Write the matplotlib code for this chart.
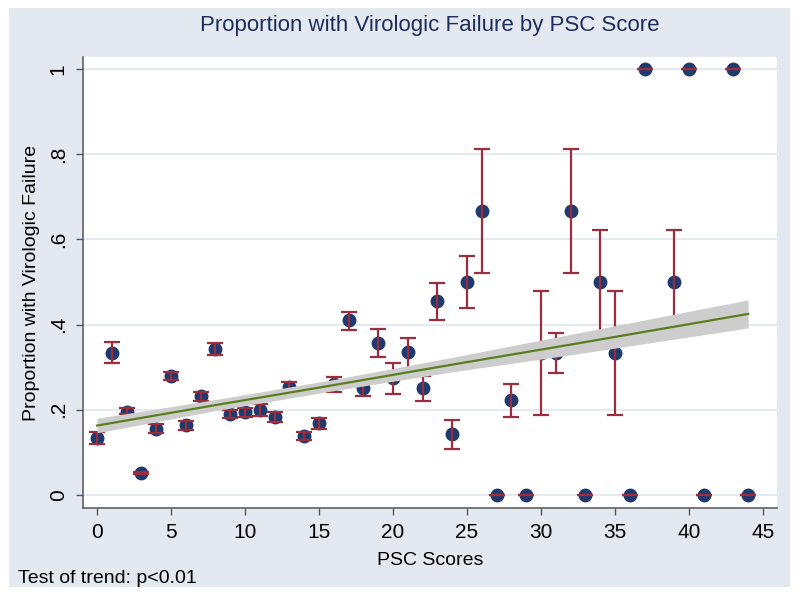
import numpy as np
import matplotlib
matplotlib.use("Agg")
import matplotlib.pyplot as plt
from matplotlib.patches import Rectangle
from matplotlib import font_manager

# PSC score vs proportion with virologic failure (means with error bars)
psc = list(range(0, 38)) + [39, 40, 41, 43, 44]
prop = [0.134, 0.333, 0.195, 0.052, 0.155, 0.280, 0.164, 0.232, 0.343, 0.190,
        0.194, 0.200, 0.183, 0.254, 0.138, 0.168, 0.260, 0.410, 0.250, 0.357,
        0.275, 0.336, 0.250, 0.455, 0.143, 0.500, 0.667, 0.000, 0.222, 0.000,
        0.333, 0.333, 0.667, 0.000, 0.500, 0.333, 0.000, 1.000,
        0.500, 1.000, 0.000, 1.000, 0.000]
lo = [0.120, 0.310, 0.190, 0.050, 0.146, 0.270, 0.153, 0.221, 0.329, 0.181,
      0.183, 0.185, 0.171, 0.243, 0.129, 0.155, 0.242, 0.387, 0.232, 0.324,
      0.237, 0.293, 0.220, 0.410, 0.108, 0.440, 0.520, 0.000, 0.183, 0.000,
      0.188, 0.286, 0.520, 0.000, 0.378, 0.188, 0.000, 1.000,
      0.378, 1.000, 0.000, 1.000, 0.000]
hi = [0.148, 0.359, 0.204, 0.054, 0.167, 0.289, 0.174, 0.242, 0.357, 0.200,
      0.204, 0.214, 0.195, 0.265, 0.148, 0.181, 0.277, 0.430, 0.262, 0.390,
      0.310, 0.369, 0.280, 0.498, 0.176, 0.560, 0.812, 0.000, 0.260, 0.000,
      0.479, 0.381, 0.812, 0.000, 0.622, 0.479, 0.000, 1.000,
      0.622, 1.000, 0.000, 1.000, 0.000]

# linear fit with confidence band
fit_x = [0, 8, 16, 24, 32, 40, 44]
fit_y = [0.163, 0.211, 0.258, 0.306, 0.353, 0.401, 0.425]
fit_lo = [0.146, 0.198, 0.245, 0.289, 0.329, 0.371, 0.392]
fit_hi = [0.180, 0.224, 0.271, 0.323, 0.377, 0.431, 0.458]

xticks = [0, 5, 10, 15, 20, 25, 30, 35, 40, 45]
yticks = [0, 0.2, 0.4, 0.6, 0.8, 1.0]
ylabels = ["0", ".2", ".4", ".6", ".8", "1"]

names = [f.name for f in font_manager.fontManager.ttflist]
base = "Liberation Sans" if "Liberation Sans" in names else "DejaVu Sans"
narrow = "Liberation Sans Narrow" if "Liberation Sans Narrow" in names else base
plt.rcParams['font.family'] = base

bg = '#E4E9F1'
navy = '#1E3A6E'
maroon = '#9B2D3C'
green = '#5A7D1F'

fig = plt.figure(figsize=(8, 5.98), dpi=100)
fig.patch.set_facecolor('white')
fig.patches.append(Rectangle((9/800, 1-587/598), 781/800, 579/598,
                             transform=fig.transFigure, facecolor=bg,
                             edgecolor='none', zorder=-10))

ax = fig.add_axes([83/800, 1-508/598, 694/800, 451/598])
ax.set_facecolor('white')

y = np.array(prop)
ax.plot(psc, prop, 'o', color=navy, markersize=9, zorder=3)
ax.errorbar(psc, prop, yerr=[y - np.array(lo), np.array(hi) - y], fmt='none',
            ecolor=maroon, elinewidth=1.6, capsize=5.5, capthick=1.6, zorder=4)
ax.fill_between(fit_x, fit_lo, fit_hi, color='#CDCDCD', lw=0, zorder=5)
ax.plot(fit_x, fit_y, color=green, lw=1.6, zorder=6)

ax.set_xlim(-0.95, 45.95)
ax.set_ylim(-0.0305, 1.028)
ax.set_xticks(xticks)
ax.set_yticks(yticks)
ax.set_yticklabels(ylabels, rotation=90, va='center')
ax.grid(axis='y', color='#DFE6EF', lw=1.2, zorder=0)
ax.set_axisbelow(True)
for s in ['top', 'right']:
    ax.spines[s].set_visible(False)
for s in ['left', 'bottom']:
    ax.spines[s].set_color('#555555')
    ax.spines[s].set_linewidth(1.1)
ax.tick_params(direction='out', length=5, width=1.0, color='#555555',
               labelsize=15, pad=6)

ax.set_xlabel("PSC Scores", fontsize=14)
ax.xaxis.set_label_coords(0.5, -0.0976)
ax.set_ylabel("Proportion with Virologic Failure", fontsize=14)
ax.yaxis.set_label_coords(-0.062, 0.5)

fig.text(430/800, 1-25/598, "Proportion with Virologic Failure by PSC Score",
         ha='center', va='center', fontsize=16, color='#1E2D5C', family=narrow)
fig.text(18/800, 1-583/598, "Test of trend: p<0.01", fontsize=14,
         va='baseline', ha='left')

fig.savefig("out.png", dpi=100)
